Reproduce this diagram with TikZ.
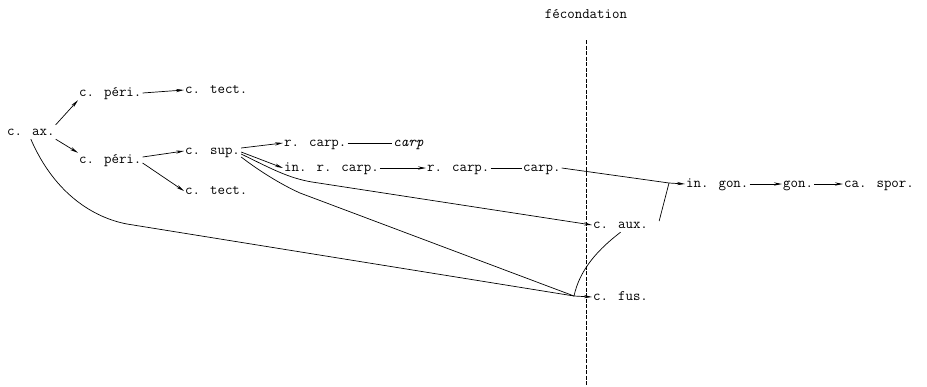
\documentclass[tikz,border=0pt]{standalone}
\usepackage{fontspec}
\usetikzlibrary{arrows.meta}
\begin{document}
\begin{tikzpicture}[x=1pt,y=-1pt,
  lbl/.style={anchor=west,inner sep=1pt,text height=9pt,text depth=3pt,font=\ttfamily\fontsize{14.5}{17}\selectfont},
  conn/.style={line width=0.7pt},
  arr/.style={conn,-{Stealth[length=8pt,width=3.2pt]}}]
\useasboundingbox (0,0) rectangle (927,386);
% fecondation line
\node[lbl,anchor=center] (fec) at (586,15) {fécondation};
\coordinate (vtop) at (586,40);
\coordinate (vbot) at (586,386);
\draw[line width=0.8pt,dash pattern=on 4pt off 1.5pt] (vtop) -- (vbot);
% nodes
\node[lbl] (cax) at (6,132) {c. ax.};
\node[lbl] (peri1) at (78,93) {c. péri.};
\node[lbl] (tect1) at (184,90) {c. tect.};
\node[lbl] (peri2) at (78,160) {c. péri.};
\node[lbl] (sup) at (184,151) {c. sup.};
\node[lbl] (tect2) at (184,191) {c. tect.};
\node[lbl] (rcarp1) at (283,143) {r. carp.};
\node[lbl] (carpi) at (392,143) {\itshape carp};
\node[lbl] (inrcarp) at (283,168) {in. r. carp.};
\node[lbl] (rcarp2) at (426,168) {r. carp.};
\node[lbl] (carp2) at (522,168) {carp.};
\node[lbl] (ingon) at (685,184) {in. gon.};
\node[lbl] (gon) at (782,184) {gon.};
\node[lbl] (caspor) at (843,184) {ca. spor.};
\node[lbl] (caux) at (592,225) {c. aux.};
\node[lbl] (cfus) at (592,297) {c. fus.};
% junctions
\coordinate (K) at (669,183);
\coordinate (J) at (574,296);
\coordinate (A1) at (127,224);
\coordinate (S1) at (312,182);
\coordinate (S2) at (300,193);
% connectors
\draw[arr] (cax.north east) -- (peri1.south west);
\draw[arr] (cax.south east) -- (peri2.north west);
\draw[arr] (peri1.east) -- (tect1.west);
\draw[arr] ([yshift=3pt]peri2.east) -- (sup.west);
\draw[arr] ([yshift=-3pt]peri2.east) -- (tect2.west);
\draw[arr] ([yshift=3pt]sup.east) -- (rcarp1.west);
\draw[arr] ([yshift=-1pt]sup.east) -- (inrcarp.west);
\draw[conn] (rcarp1.east) -- (carpi.west);
\draw[arr] (inrcarp.east) -- (rcarp2.west);
\draw[conn] (rcarp2.east) -- (carp2.west);
\draw[conn] (carp2.east) -- (K);
\draw[arr] (K) -- (ingon.west);
\draw[arr] (ingon.east) -- (gon.west);
\draw[arr] (gon.east) -- (caspor.west);
\draw[conn] ([xshift=10pt,yshift=4pt]caux.east) -- (K);
\draw[conn] ([yshift=-3pt]sup.east) .. controls (270,168) and (288,178) .. (S1);
\draw[arr] (S1) -- (caux.west);
\draw[conn] ([yshift=-6pt]sup.east) .. controls (258,170) and (280,184) .. (S2) -- (J);
\draw[conn] (cax.south) .. controls (55,195) and (95,218) .. (A1) -- (J);
\draw[arr] (J) -- (cfus.west);
\draw[conn] (J) .. controls (580,268) and (600,248) .. (caux.south);
\end{tikzpicture}
\end{document}
